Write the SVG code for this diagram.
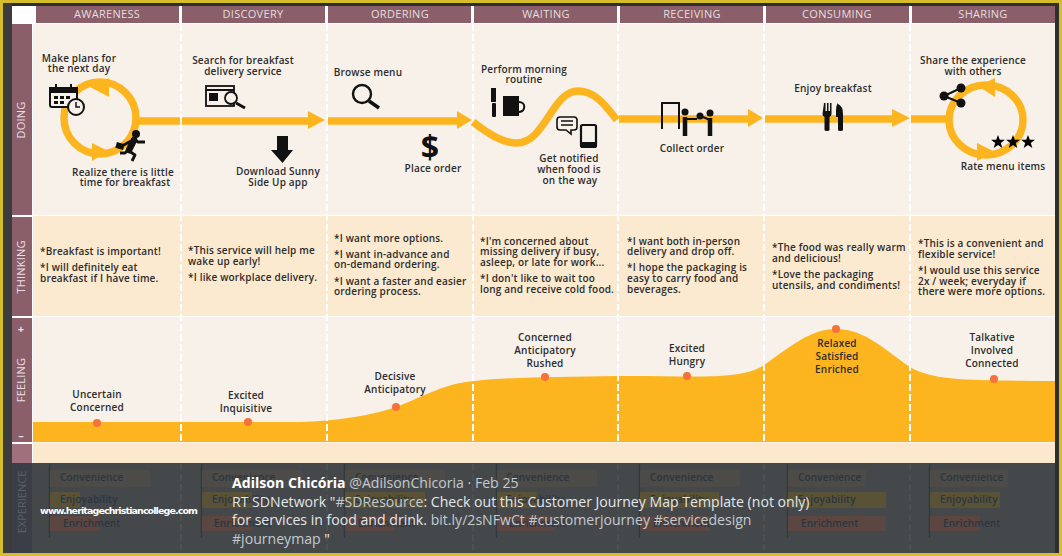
<svg xmlns="http://www.w3.org/2000/svg" width="1062" height="556" viewBox="0 0 1062 556">
<style>
text{font-family:"Open Sans","Noto Sans","DejaVu Sans",sans-serif}
.h{font-size:11px;fill:#e6dede;text-anchor:middle;letter-spacing:.3px}
.side{font-size:11px;fill:#e8dfe0;text-anchor:middle;letter-spacing:.2px}
.t{font-size:10px;font-weight:600;fill:#2c2c2c;letter-spacing:.18px}
.c{text-anchor:middle}
.d{fill:none;stroke:#fff;stroke-width:2;stroke-dasharray:7 3}
.line{fill:none;stroke:#fdb51f;stroke-width:7.5}
.ah{fill:#fdb51f}
.dot{fill:#f5733a}
.ico{fill:#111}
.icol{fill:none;stroke:#111;stroke-width:2.4}
.x{font-size:10px;font-weight:600;fill:#2b3640;letter-spacing:.15px}
.tw{font-size:14.1px;fill:#e4e6e8}
.tg{fill:#c3cad0}
</style>
<defs>
<polygon id="star" points="0,-7 1.8,-2.200 6.900,-2.200 2.800,.9 4.300,6 0,3 -4.300,6 -2.800,.9 -6.900,-2.200 -1.800,-2.200"/>
</defs>
<g id="frame">
<rect width="1062" height="556" fill="#d6bd2b"/>
<rect x="3" y="3" width="1056" height="550" fill="#2e2e2e"/>
<rect x="3" y="3" width="9" height="550" fill="#3c3c3c"/>
<rect x="12" y="6" width="1043" height="547" fill="#fff"/>
</g>
<g id="rows">
<rect x="33" y="24" width="1022" height="191" fill="#f7f1ea"/>
<rect x="33" y="216" width="1022" height="100" fill="#fbe9d0"/>
<rect x="33" y="317" width="1022" height="126" fill="#f7f1ea"/>
<rect x="33" y="443" width="1022" height="21" fill="#fce8cd"/>
</g>
<g id="headers">
<rect x="36" y="6" width="143" height="17" fill="#8a5f6a"/>
<rect x="182" y="6" width="143" height="17" fill="#8a5f6a"/>
<rect x="328" y="6" width="143" height="17" fill="#8a5f6a"/>
<rect x="474" y="6" width="143" height="17" fill="#8a5f6a"/>
<rect x="620" y="6" width="143" height="17" fill="#8a5f6a"/>
<rect x="766" y="6" width="143" height="17" fill="#8a5f6a"/>
<rect x="912" y="6" width="143" height="17" fill="#8a5f6a"/>
<text class="h" x="107" y="18">AWARENESS</text>
<text class="h" x="253" y="18">DISCOVERY</text>
<text class="h" x="400" y="18">ORDERING</text>
<text class="h" x="546" y="18">WAITING</text>
<text class="h" x="692" y="18">RECEIVING</text>
<text class="h" x="837" y="18">CONSUMING</text>
<text class="h" x="983" y="18">SHARING</text>
</g>
<g id="side-labels">
<rect x="12" y="24" width="20" height="191" fill="#8a5f6a"/>
<rect x="12" y="217" width="20" height="99" fill="#8a5f6a"/>
<rect x="12" y="318" width="20" height="124" fill="#8a5f6a"/>
<rect x="12" y="444" width="20" height="20" fill="#a0717c"/>
<text class="side" transform="translate(25,120) rotate(-90)">DOING</text>
<text class="side" transform="translate(25,267) rotate(-90)">THINKING</text>
<text class="side" transform="translate(25,380) rotate(-90)">FEELING</text>
<text class="side" x="21" y="333" style="font-weight:700">+</text>
<text class="side" x="21" y="439" style="font-weight:700">–</text>
</g>
<g id="feeling-curve">
<path d="M33,422 H300 C335,421 370,416 396,407 C425,396 445,383 475,381 C510,377 560,377 617,376 C680,375 740,382 764,365 C790,347 810,329 836,329 C865,329 885,350 910,367 C935,382 975,380 1055,381 V442 H33 Z" fill="#fdb51f"/>
</g>
<g id="dividers">
<path class="d" d="M181,24V443"/><path class="d" d="M327,24V443"/><path class="d" d="M473,24V443"/><path class="d" d="M618,24V443"/><path class="d" d="M764,24V443"/><path class="d" d="M910,24V443"/>
<path d="M181,6V24M327,6V24M473,6V24M618,6V24M764,6V24M910,6V24" stroke="#fff" stroke-width="2"/>
</g>
<g id="connectors">
<circle class="line" cx="100" cy="118" r="36"/>
<polygon class="ah" points="90,87 109,78 109,97"/>
<polygon class="ah" points="108,151 92,143 92,161"/>
<path class="line" d="M136,121H180M182,121H312"/>
<polygon class="ah" points="325,120 308,111 308,129"/>
<path class="line" d="M328,121H460"/>
<polygon class="ah" points="472,120 457,111 457,129"/>
<path class="line" d="M473,122 C490,135 503,143 517,143 C545,143 552,91 578,91 C595,91 605,105 617,120"/>
<path class="line" d="M619,119H752"/>
<polygon class="ah" points="763,118 748,109 748,127"/>
<path class="line" d="M765,119H895"/>
<polygon class="ah" points="910,118 892,109 892,127"/>
<path class="line" d="M911,119H950"/>
<ellipse class="line" cx="986" cy="120" rx="37" ry="35"/>
<polygon class="ah" points="978,86 995,78 995,97"/>
<polygon class="ah" points="995,152 977,143 977,161"/>
</g>
<g id="make-plans">
<text class="t c" x="79" y="62">Make plans for</text><text class="t c" x="79" y="72">the next day</text>
<rect x="50" y="88" width="27" height="19" rx="2" fill="#f7f1ea" stroke="#111" stroke-width="2"/>
<rect x="49" y="87" width="29" height="6" class="ico"/>
<path d="M56,84V90M71,84V90" stroke="#111" stroke-width="2"/>
<path d="M54,96h4v3h-4zM60,96h4v3h-4zM66,96h4v3h-4zM54,101h4v3h-4zM60,101h4v3h-4z" class="ico"/>
<circle cx="76" cy="107" r="8" fill="#f7f1ea" stroke="#111" stroke-width="2"/>
<path d="M76,102V107H80" class="icol" style="stroke-width:1.5"/>
</g>
<g id="realize">
<text class="t c" x="123" y="176">Realize there is little</text><text class="t c" x="125" y="186">time for breakfast</text>
<circle class="ico" cx="136" cy="134" r="4"/>
<path d="M134,140L129,150" stroke="#111" stroke-width="6.500" stroke-linecap="round"/>
<path d="M135,140L138,142L145,142M131,141L122,146M129,151L135,155L132,161M128,150L125,153L120,153" fill="none" stroke="#111" stroke-width="2.800" stroke-linejoin="round"/>
<rect class="ico" x="116" y="143" width="8" height="6" transform="rotate(15 120 146)"/>
</g>
<g id="search">
<text class="t c" x="243" y="64">Search for breakfast</text><text class="t c" x="243" y="75">delivery service</text>
<rect x="206" y="86" width="28" height="20" fill="none" stroke="#111" stroke-width="1.800"/>
<path d="M206,90H234" stroke="#111" stroke-width="2"/>
<rect class="ico" x="209" y="93" width="9" height="8"/>
<circle cx="231" cy="98" r="6" fill="#f7f1ea" stroke="#111" stroke-width="1.800"/>
<path d="M236,103L245,108" stroke="#111" stroke-width="3"/>
</g>
<g id="download">
<text class="t c" x="278" y="175">Download Sunny</text><text class="t c" x="278" y="186">Side Up app</text>
<polygon class="ico" points="277,136 288,136 288,150 293,150 282.500,163 271,150 277,150"/>
</g>
<g id="browse">
<text class="t c" x="368" y="76">Browse menu</text>
<circle cx="362" cy="94" r="9" fill="none" stroke="#111" stroke-width="2.400"/>
<path d="M369,101L379,108" stroke="#111" stroke-width="3.500"/>
</g>
<g id="place-order">
<text class="t c" x="433" y="172">Place order</text>
<text x="430" y="159" text-anchor="middle" style="font-size:32px;font-weight:700;fill:#111">$</text>
</g>
<g id="perform">
<text class="t c" x="524" y="73">Perform morning</text><text class="t c" x="524" y="83">routine</text>
<rect class="ico" x="491" y="88" width="5" height="14"/>
<rect class="ico" x="492" y="103" width="4" height="14" rx="1"/>
<rect class="ico" x="503" y="96" width="16" height="20"/>
<path d="M519,102c7,0 7,9 0,10" class="icol" style="stroke-width:2"/>
</g>
<g id="notified">
<text class="t c" x="569" y="162">Get notified</text><text class="t c" x="569" y="173">when food is</text><text class="t c" x="570" y="184">on the way</text>
<path d="M560,117h14q3,0 3,3v7q0,3-3,3h-3v4l-5,-4h-6q-3,0-3-3v-7q0-3 3-3z" fill="#f7f1ea" stroke="#111" stroke-width="1.600"/>
<path d="M561,121h12M561,125h12" stroke="#111" stroke-width="1.400"/>
<rect x="581" y="125" width="15" height="22" rx="1.500" fill="#f7f1ea" stroke="#111" stroke-width="2.200"/>
<rect class="ico" x="581" y="142" width="15" height="5"/>
</g>
<g id="collect">
<text class="t c" x="692" y="152">Collect order</text>
<path d="M662,129V103H679V129" fill="none" stroke="#111" stroke-width="2"/>
<circle class="ico" cx="685" cy="112" r="3.500"/><circle class="ico" cx="710" cy="113" r="3.500"/>
<path d="M685,117V136M710,118V136" stroke="#111" stroke-width="4.500"/>
<path d="M685,119L697,119M710,120L703,117" stroke="#111" stroke-width="2"/>
<ellipse class="ico" cx="700" cy="116" rx="3.500" ry="3.500"/>
</g>
<g id="enjoy">
<text class="t c" x="833" y="92">Enjoy breakfast</text>
<path class="ico" d="M824,103h1.500v8h1.500v-8h1.500v8h1.500v-8h1.500v11q0,2-2,3v13q0,1-2.500,1t-2.500-1v-13q-2-1-2-3zM838,104q5,2 5,10v16q0,1-2.500,1t-2.500-1v-13h-2v-6q0-6 2-8z"/>
</g>
<g id="share">
<text class="t c" x="973" y="64">Share the experience</text><text class="t c" x="973" y="75">with others</text>
<path d="M944,96L961,88M944,96L961,103" stroke="#111" stroke-width="2"/>
<circle class="ico" cx="944" cy="96" r="4.500"/><circle class="ico" cx="961" cy="88" r="4.500"/><circle class="ico" cx="961" cy="103" r="4.500"/>
</g>
<g id="rate">
<text class="t c" x="1003" y="170">Rate menu items</text>
<use href="#star" x="998" y="142"/><use href="#star" x="1013" y="142"/><use href="#star" x="1028" y="142"/>
</g>
<g id="thinking">
<text class="t" x="40" y="255">*Breakfast is important!</text><text class="t" x="40" y="271">*I will definitely eat</text><text class="t" x="40" y="282">breakfast if I have time.</text>
<text class="t" x="188" y="254">*This service will help me</text><text class="t" x="188" y="265">wake up early!</text><text class="t" x="188" y="281">*I like workplace delivery.</text>
<text class="t" x="334" y="242">*I want more options.</text><text class="t" x="334" y="258">*I want in-advance and</text><text class="t" x="334" y="268">on-demand ordering.</text><text class="t" x="334" y="285">*I want a faster and easier</text><text class="t" x="334" y="295">ordering process.</text>
<text class="t" x="480" y="245">*I'm concerned about</text><text class="t" x="480" y="255">missing delivery if busy,</text><text class="t" x="480" y="266">asleep, or late for work...</text><text class="t" x="480" y="282">*I don't like to wait too</text><text class="t" x="480" y="293">long and receive cold food.</text>
<text class="t" x="627" y="245">*I want both in-person</text><text class="t" x="627" y="255">delivery and drop off.</text><text class="t" x="627" y="271">*I hope the packaging is</text><text class="t" x="627" y="282">easy to carry food and</text><text class="t" x="627" y="293">beverages.</text>
<text class="t" x="772" y="251">*The food was really warm</text><text class="t" x="772" y="262">and delicious!</text><text class="t" x="772" y="278">*Love the packaging</text><text class="t" x="772" y="289">utensils, and condiments!</text>
<text class="t" x="918" y="247">*This is a convenient and</text><text class="t" x="918" y="258">flexible service!</text><text class="t" x="918" y="274">*I would use this service</text><text class="t" x="918" y="285">2x / week; everyday if</text><text class="t" x="918" y="295">there were more options.</text>
</g>
<g id="feeling-points">
<circle class="dot" cx="97" cy="423" r="4"/><circle class="dot" cx="248" cy="422" r="4"/><circle class="dot" cx="396" cy="407" r="4"/><circle class="dot" cx="545" cy="377" r="4"/><circle class="dot" cx="687" cy="376" r="4"/><circle class="dot" cx="836" cy="329" r="4"/><circle class="dot" cx="994" cy="379" r="4"/>
<text class="t c" x="97" y="398">Uncertain</text><text class="t c" x="97" y="411">Concerned</text>
<text class="t c" x="246" y="399">Excited</text><text class="t c" x="246" y="412">Inquisitive</text>
<text class="t c" x="395" y="380">Decisive</text><text class="t c" x="395" y="393">Anticipatory</text>
<text class="t c" x="545" y="341">Concerned</text><text class="t c" x="545" y="354">Anticipatory</text><text class="t c" x="545" y="367">Rushed</text>
<text class="t c" x="687" y="352">Excited</text><text class="t c" x="687" y="365">Hungry</text>
<text class="t c" x="837" y="347">Relaxed</text><text class="t c" x="837" y="360">Satisfied</text><text class="t c" x="837" y="373">Enriched</text>
<text class="t c" x="992" y="341">Talkative</text><text class="t c" x="992" y="354">Involved</text><text class="t c" x="992" y="367">Connected</text>
</g>
<g id="experience">
<rect x="12" y="463" width="1043" height="90" fill="#45484b"/>
<rect x="12" y="463" width="20" height="90" fill="#3b3e47"/>
<text class="side" transform="translate(26,502) rotate(-90)" style="fill:#5c6068;letter-spacing:0">EXPERIENCE</text>
<path d="M181,464V553M327,464V553M473,464V553M618,464V553M764,464V553M910,464V553" stroke="#4d5053" stroke-width="2" stroke-dasharray="7 3"/>
<path d="M49.500,464V538M201.500,464V538M344.500,464V538M496.500,464V538M639.500,464V538M787.500,464V538M929.500,464V538" stroke="#33383e" stroke-width="1.500"/>
<g fill="#4c4b48">
<rect x="50" y="470" width="100" height="17"/><rect x="202" y="470" width="100" height="17"/><rect x="345" y="470" width="100" height="17"/><rect x="497" y="470" width="100" height="17"/><rect x="640" y="470" width="100" height="17"/><rect x="788" y="470" width="78" height="17"/><rect x="930" y="470" width="78" height="17"/>
</g>
<g fill="#5a5236">
<rect x="50" y="492" width="30" height="16"/><rect x="202" y="492" width="50" height="16"/><rect x="345" y="492" width="80" height="16"/><rect x="497" y="492" width="40" height="16"/><rect x="640" y="492" width="79" height="16"/><rect x="788" y="492" width="98" height="16"/><rect x="930" y="492" width="70" height="16"/>
</g>
<g fill="#5b4641">
<rect x="50" y="516" width="50" height="15"/><rect x="202" y="516" width="50" height="15"/><rect x="345" y="516" width="50" height="15"/><rect x="497" y="516" width="57" height="15"/><rect x="640" y="516" width="70" height="15"/><rect x="788" y="516" width="98" height="15"/><rect x="930" y="516" width="50" height="15"/>
</g>
<text class="x" x="60" y="481">Convenience</text><text class="x" x="212" y="481">Convenience</text><text class="x" x="355" y="481">Convenience</text><text class="x" x="506" y="481">Convenience</text><text class="x" x="650" y="481">Convenience</text><text class="x" x="798" y="481">Convenience</text><text class="x" x="940" y="481">Convenience</text>
<text class="x" x="60" y="503">Enjoyability</text><text class="x" x="212" y="503">Enjoyability</text><text class="x" x="355" y="503">Enjoyability</text><text class="x" x="506" y="503">Enjoyability</text><text class="x" x="650" y="503">Enjoyability</text><text class="x" x="798" y="503">Enjoyability</text><text class="x" x="940" y="503">Enjoyability</text>
<text class="x" x="63" y="527">Enrichment</text><text class="x" x="214" y="527">Enrichment</text><text class="x" x="358" y="527">Enrichment</text><text class="x" x="509" y="527">Enrichment</text><text class="x" x="653" y="527">Enrichment</text><text class="x" x="801" y="527">Enrichment</text><text class="x" x="943" y="527">Enrichment</text>
</g>
<g id="tweet">
<text class="tw" x="232" y="488"><tspan font-weight="700" fill="#fff">Adilson Chicória</tspan> <tspan class="tg">@AdilsonChicoria  · Feb 25</tspan></text>
<text class="tw" x="232" y="507">RT SDNetwork "<tspan class="tg">#SDResource</tspan>: Check out this Customer Journey Map Template (not only)</text>
<text class="tw" x="232" y="525">for services in food and drink. <tspan class="tg">bit.ly/2sNFwCt #customerjourney #servicedesign</tspan></text>
<text class="tw" x="232" y="544"><tspan class="tg">#journeymap</tspan> "</text>
<text x="40" y="514" textLength="158" lengthAdjust="spacing" style="font-family:'DejaVu Sans',sans-serif;font-size:9.500px;fill:#fff;font-weight:700">www.heritagechristiancollege.com</text>
</g>
</svg>
